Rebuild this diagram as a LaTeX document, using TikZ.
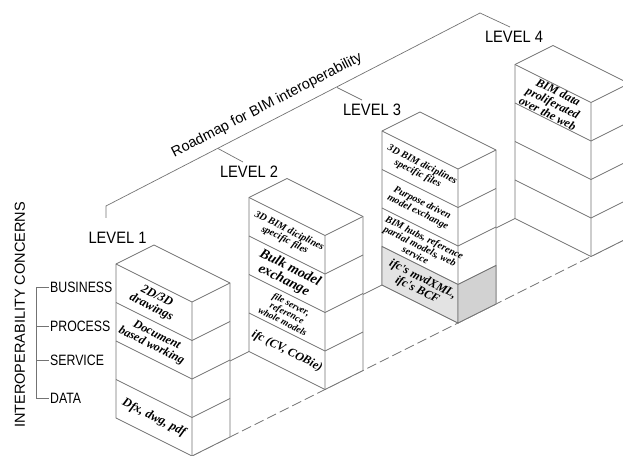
\documentclass[tikz,border=0pt]{standalone}
\usepackage{fontspec}
\setmainfont{Liberation Sans}
\newfontfamily\cellfont{Liberation Serif}
\newfontfamily\tagfont[FakeStretch=0.82]{Liberation Sans}
\newfontfamily\lvlfont[FakeStretch=0.89]{Liberation Sans}
\usetikzlibrary{positioning}
\tikzset{
  edge/.style ={draw=black!55, line width=0.7pt},
  floor/.style={edge, dash pattern=on 10pt off 4pt},
  cell/.style ={font=\cellfont\bfseries\itshape\fontsize{#1}{#1}\selectfont,
                align=center, rotate=-26.57, inner sep=0pt},
  lvl/.style  ={font=\lvlfont\fontsize{16.5}{18}\selectfont, inner sep=0pt},
  tag/.style  ={font=\tagfont\fontsize{15}{17}\selectfont, inner sep=1pt},
  note/.style ={font=\fontsize{14.5}{16}\selectfont, inner sep=0pt}
}

\begin{document}
\begin{tikzpicture}[x=1pt, y=1pt]
\useasboundingbox (0,0) rectangle (623,455);

% levels on the roadmap
\node[lvl] (lv1) at (117.5,217.5) {LEVEL 1};
\node[lvl] (lv2) at (249,283) {LEVEL 2};
\node[lvl] (lv3) at (372,345) {LEVEL 3};
\node[lvl] (lv4) at (514,418) {LEVEL 4};
\coordinate (r1) at (106,249);
\coordinate (r2) at (218,306.5);
\coordinate (r3) at (337,367.5);
\coordinate (r4) at (480,442);
\coordinate (t1) at (106,237);
\coordinate (t2) at (243,293);
\coordinate (t3) at (362,355);
\coordinate (t4) at (510,428);
\draw[edge] (t1) -- (r1) -- (r4) -- (t4);
\draw[edge] (r2) -- (t2) (r3) -- (t3);
\node[note, rotate=27.2] (road) at (267,349.5) {Roadmap for BIM interoperability};

% concerns
\node[note, rotate=90] (ic) at (20,140) {INTEROPERABILITY CONCERNS};
\node[tag, anchor=west] (bus)  at (49,168) {BUSINESS};
\node[tag, anchor=west] (proc) at (49,129) {PROCESS};
\node[tag, anchor=west] (serv) at (49,95)  {SERVICE};
\node[tag, anchor=west] (data) at (49,57)  {DATA};
\coordinate (br) at (36,0);
\draw[edge] (bus.west) -- (bus.west -| br) -- (data.west -| br) -- (data.west);
\draw[edge] (proc.west -| br) -- (proc.west) (serv.west -| br) -- (serv.west);

% stacks
\begin{scope}[shift={(116,37)}, x={(76pt,-38pt)}, y={(38pt,19pt)}, z={(0pt,38.5pt)}]
  \draw[edge] (0,0,0) -- (0,10.5,0);
  \draw[floor] (1,0,0) -- (1,12,0);
  \foreach \off in {0,3.5,7,10.5}{
    \draw[edge, fill=white] (0,\off,0) -- (1,\off,0) -- (1,\off+1,0) -- (1,\off+1,4)
      -- (0,\off+1,4) -- (0,\off,4) -- cycle;
    \draw[edge] (0,\off,4) -- (1,\off,4) -- (1,\off+1,4) (1,\off,4) -- (1,\off,0);
    \foreach \h in {1,2,3}
      \draw[edge] (0,\off,\h) -- (1,\off,\h) -- (1,\off+1,\h);
  }
  \draw[edge, fill=gray!22] (0,7,0) -- (1,7,0) -- (1,7,1) -- (0,7,1) -- cycle;
  \draw[edge, fill=gray!35] (1,7,0) -- (1,8,0) -- (1,8,1) -- (1,7,1) -- cycle;

  \node[cell=12.5] (c14) at (0.5,0,3.5) {2D/3D\\drawings};
  \node[cell=12]   (c13) at (0.5,0,2.5) {Document\\based working};
  \node[cell=12.5] (c11) at (0.5,0,0.5) {Dfx, dwg, pdf};

  \node[cell=10]   (c24) at (0.5,3.5,3.5) {3D BIM diciplines\\specific files};
  \node[cell=14]   (c23) at (0.5,3.5,2.5) {Bulk model\\exchange};
  \node[cell=9.5]  (c22) at (0.5,3.5,1.5) {file server,\\reference\\whole models};
  \node[cell=12]   (c21) at (0.5,3.5,0.5) {ifc (CV, COBie)};

  \node[cell=10]   (c34) at (0.5,7,3.5) {3D BIM diciplines\\specific files};
  \node[cell=10]   (c33) at (0.5,7,2.5) {Purpose driven\\model exchange};
  \node[cell=10]   (c32) at (0.5,7,1.5) {BIM hubs, reference\\partial models, web\\service};
  \node[cell=12]   (c31) at (0.5,7,0.5) {ifc's mvdXML,\\ifc's BCF};

  \node[cell=12]   (c44) at (0.5,10.5,3.5) {BIM data\\proliferated\\over the web};
\end{scope}
\end{tikzpicture}
\end{document}
